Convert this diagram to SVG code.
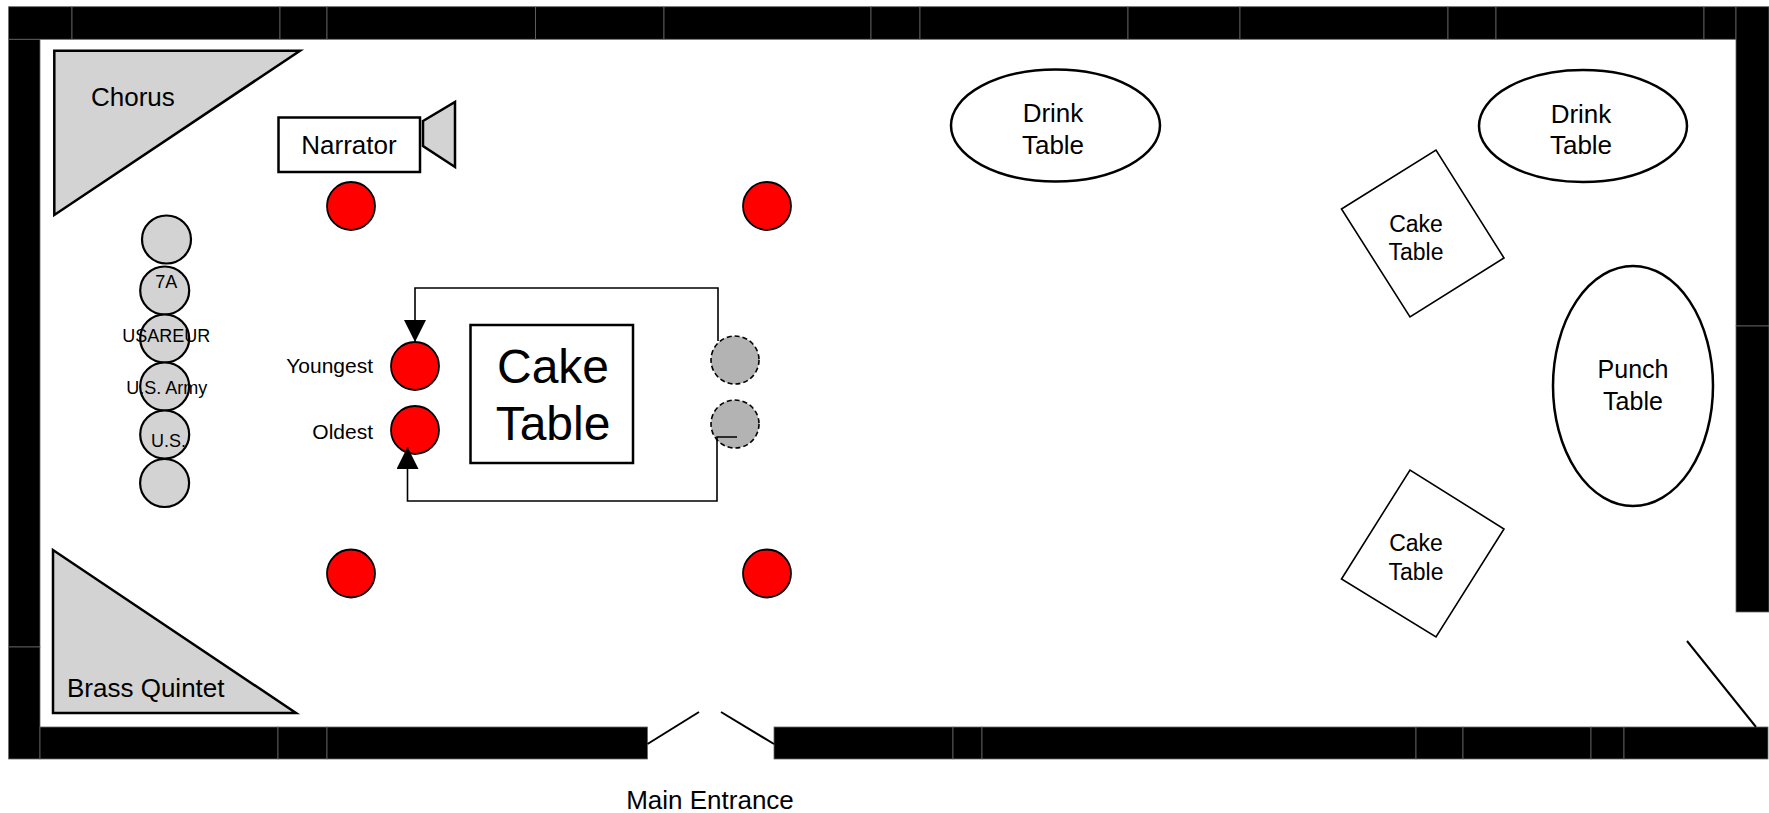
<svg xmlns="http://www.w3.org/2000/svg" width="1769" height="813" viewBox="0 0 1769 813">
<defs>
<style>
text{font-family:"Liberation Sans",Arial,sans-serif;fill:#000}
.wall rect{fill:#000;stroke:#666;stroke-width:0.8}
.tri{fill:#d3d3d3;stroke:#000;stroke-width:2.5}
.box{fill:#fff;stroke:#000;stroke-width:2.5}
.tbl{fill:#fff;stroke:#000;stroke-width:2.5}
.sq{fill:#fff;stroke:#000;stroke-width:1.6}
.seat{fill:#ff0000;stroke:#000;stroke-width:1.8}
.gseat{fill:#d3d3d3;stroke:#000;stroke-width:2.2}
.ghost{fill:#b3b3b3;stroke:#000;stroke-width:1.6;stroke-dasharray:5 3}
.door{stroke:#000;stroke-width:2;fill:none}
.conn{fill:none;stroke:#000;stroke-width:1.6}
.c{text-anchor:middle}
</style>
<marker id="arr" markerUnits="userSpaceOnUse" markerWidth="22" markerHeight="22" viewBox="0 0 20 20" refX="20" refY="10" orient="auto">
<path d="M0,0 L20,10 L0,20 Z" fill="#000"/>
</marker>
</defs>
<rect width="1769" height="813" fill="#fff"/>

<g id="walls" class="wall">
<rect x="8.6" y="6.7" width="63.4" height="32.6"/>
<rect x="72" y="6.7" width="208" height="32.6"/>
<rect x="280" y="6.7" width="47" height="32.6"/>
<rect x="327" y="6.7" width="208.6" height="32.6"/>
<rect x="535.6" y="6.7" width="128.4" height="32.6"/>
<rect x="664" y="6.7" width="207" height="32.6"/>
<rect x="871" y="6.7" width="49" height="32.6"/>
<rect x="920" y="6.7" width="208" height="32.6"/>
<rect x="1128" y="6.7" width="112" height="32.6"/>
<rect x="1240" y="6.7" width="208" height="32.6"/>
<rect x="1448" y="6.7" width="48" height="32.6"/>
<rect x="1496" y="6.7" width="208" height="32.6"/>
<rect x="1704" y="6.7" width="32" height="32.6"/>
<rect x="1736" y="6.7" width="33" height="319.3"/>
<rect x="1736" y="326" width="33" height="286"/>
<rect x="8.6" y="39.3" width="31.4" height="607.7"/>
<rect x="8.6" y="647" width="31.4" height="112"/>
<rect x="40" y="727" width="238" height="32"/>
<rect x="278" y="727" width="49" height="32"/>
<rect x="327" y="727" width="320.5" height="32"/>
<rect x="774" y="727" width="179" height="32"/>
<rect x="953" y="727" width="29" height="32"/>
<rect x="982" y="727" width="434" height="32"/>
<rect x="1416" y="727" width="47" height="32"/>
<rect x="1463" y="727" width="128" height="32"/>
<rect x="1591" y="727" width="33" height="32"/>
<rect x="1624" y="727" width="144" height="32"/>
</g>

<g id="doors">
<line class="door" x1="647.5" y1="744" x2="699" y2="712"/>
<line class="door" x1="721" y1="712" x2="774" y2="744"/>
<line class="door" x1="1687" y1="641" x2="1756" y2="727"/>
</g>
<g id="main-entrance"><text class="c" x="710" y="809" font-size="26">Main Entrance</text></g>

<g id="chorus">
<polygon class="tri" points="54.3,50.7 300,50.7 54.3,215"/>
<text x="91" y="106" font-size="26">Chorus</text>
</g>
<g id="brass-quintet">
<polygon class="tri" points="53,550 53,713 296,713"/>
<text x="67" y="697" font-size="26">Brass Quintet</text>
</g>
<g id="narrator">
<rect class="box" x="278.5" y="117.5" width="141.5" height="54.5"/>
<text class="c" x="349" y="154" font-size="26">Narrator</text>
</g>
<g id="speaker">
<polygon class="tri" points="423,121 455,102 455,167 423,146"/>
</g>

<g id="flag-line">
<ellipse class="gseat" cx="166.5" cy="239.5" rx="24.5" ry="24"/>
<ellipse class="gseat" cx="164.7" cy="290.5" rx="24.5" ry="24"/>
<ellipse class="gseat" cx="164.7" cy="338.5" rx="24.5" ry="24"/>
<ellipse class="gseat" cx="164.7" cy="386.5" rx="24.5" ry="24"/>
<ellipse class="gseat" cx="164.7" cy="434.5" rx="24.5" ry="24"/>
<ellipse class="gseat" cx="164.6" cy="483" rx="24.5" ry="24"/>
<text class="c" x="166.3" y="288.3" font-size="18">7A</text>
<text class="c" x="166.3" y="342.3" font-size="18">USAREUR</text>
<text class="c" x="166.7" y="394.3" font-size="18">U.S. Army</text>
<text class="c" x="168.5" y="447.3" font-size="18">U.S.</text>
</g>

<g id="seat-nw"><circle class="seat" cx="351" cy="206" r="24"/></g>
<g id="seat-ne"><circle class="seat" cx="767" cy="206" r="24"/></g>
<g id="seat-sw"><circle class="seat" cx="351" cy="573.5" r="24"/></g>
<g id="seat-se"><circle class="seat" cx="767" cy="573.5" r="24"/></g>
<g id="youngest">
<circle class="seat" cx="415" cy="366" r="24"/>
<text x="373" y="373" font-size="21" text-anchor="end">Youngest</text>
</g>
<g id="oldest">
<circle class="seat" cx="415" cy="430" r="24"/>
<text x="373" y="439" font-size="21" text-anchor="end">Oldest</text>
</g>
<g id="ghost-1"><circle class="ghost" cx="735" cy="360" r="24"/></g>
<g id="ghost-2"><circle class="ghost" cx="735" cy="424" r="24"/></g>

<g id="main-cake-table">
<rect class="box" x="470.5" y="325" width="162.5" height="138"/>
<text class="c" x="553" y="382.7" font-size="48">Cake</text>
<text class="c" x="553" y="440" font-size="48">Table</text>
</g>

<g id="connectors">
<path class="conn" d="M718,341 V288 H415 V342" marker-end="url(#arr)"/>
<path class="conn" d="M737,437 H717 V501 H407.5 V447" marker-end="url(#arr)"/>
</g>

<g id="drink-table-1">
<ellipse class="tbl" cx="1055.5" cy="125.5" rx="104.5" ry="56"/>
<text class="c" x="1053" y="122" font-size="26">Drink</text>
<text class="c" x="1053" y="154" font-size="26">Table</text>
</g>
<g id="drink-table-2">
<ellipse class="tbl" cx="1583" cy="126" rx="104" ry="56"/>
<text class="c" x="1581" y="123" font-size="26">Drink</text>
<text class="c" x="1581" y="154" font-size="26">Table</text>
</g>
<g id="cake-table-2">
<polygon class="sq" points="1341.5,209 1436,150 1504,258 1410,317"/>
<text class="c" x="1416" y="231.5" font-size="23">Cake</text>
<text class="c" x="1416" y="260" font-size="23">Table</text>
</g>
<g id="cake-table-3">
<polygon class="sq" points="1341.5,579 1410,470 1504,529 1436,637"/>
<text class="c" x="1416" y="551" font-size="23">Cake</text>
<text class="c" x="1416" y="580" font-size="23">Table</text>
</g>
<g id="punch-table">
<ellipse class="tbl" cx="1633" cy="386" rx="80" ry="120"/>
<text class="c" x="1633" y="377.5" font-size="25">Punch</text>
<text class="c" x="1633" y="410" font-size="25">Table</text>
</g>
</svg>
